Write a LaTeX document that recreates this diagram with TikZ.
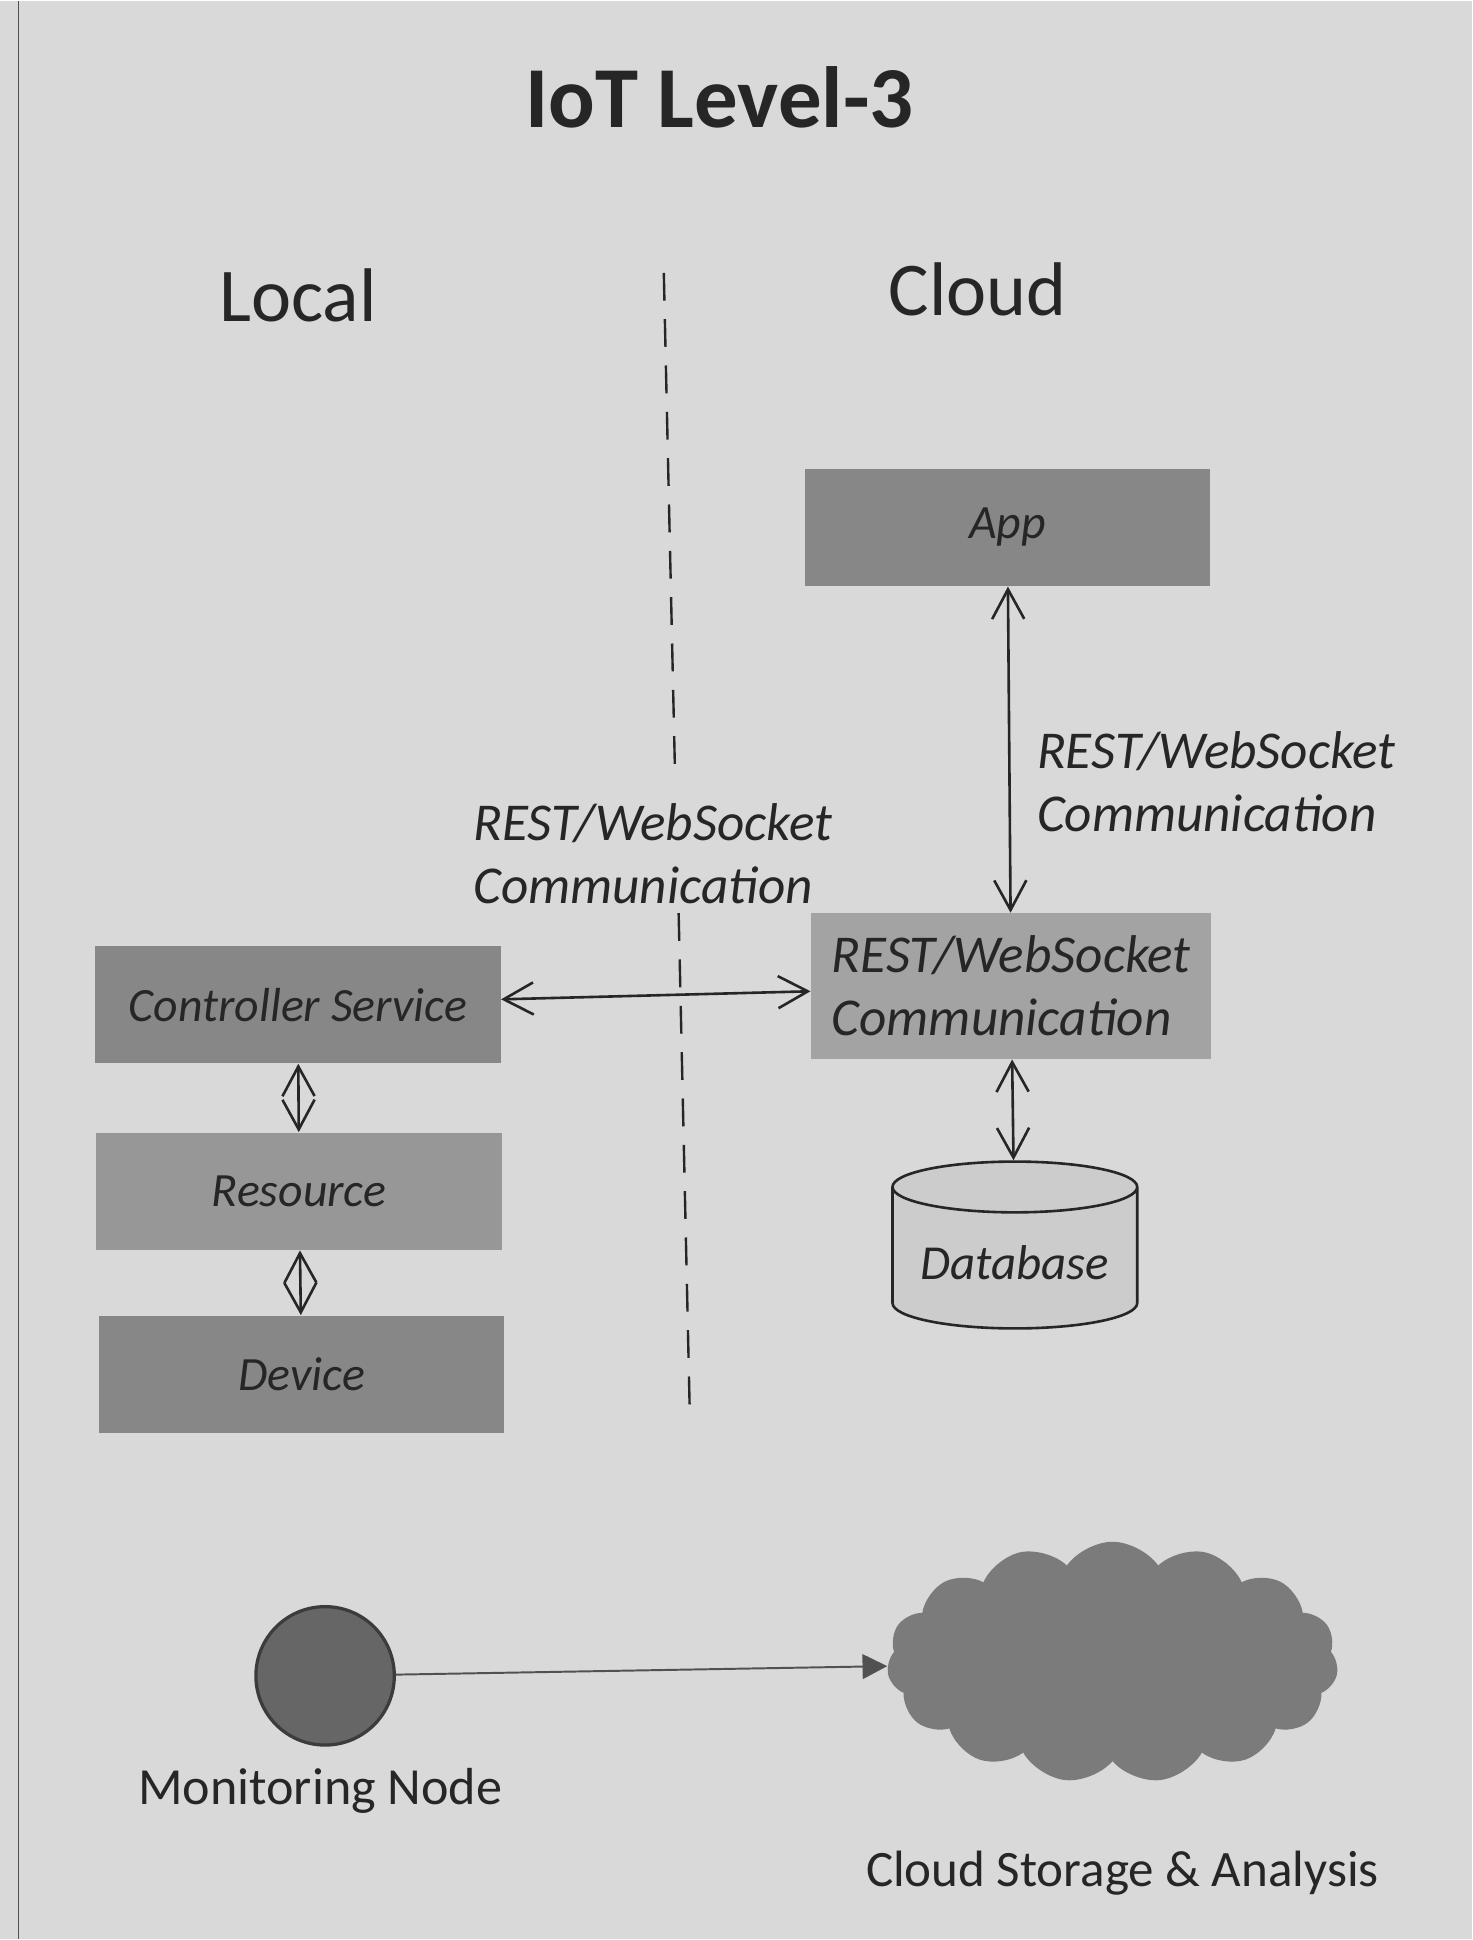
\documentclass[tikz,border=0pt]{standalone}
\usepackage{fontspec}
\setmainfont{Carlito}
\usetikzlibrary{arrows.meta,shapes.geometric,shapes.symbols}
\definecolor{paper}{HTML}{D9D9D9}
\definecolor{ink}{HTML}{262626}
\definecolor{boxdark}{HTML}{878787}
\definecolor{boxmid}{HTML}{979797}
\definecolor{boxlight}{HTML}{A3A3A3}

\begin{document}
\begin{tikzpicture}[x=0.02cm, y=-0.02cm,
    blk/.style={fill=boxdark, minimum width=6.56cm, minimum height=1.9cm, text=ink, font=\fontsize{22}{29}\selectfont\itshape},
    twoway/.style={{Straight Barb[length=4.8mm,width=5.2mm]}-{Straight Barb[length=4.8mm,width=5.2mm]}, line width=1.2pt, draw=ink},
    lbl/.style={text=ink, align=left, font=\fontsize{24.5}{29}\selectfont\itshape}]
        \fill[paper] (0,0) rectangle (1191,1568);
        \draw[ink!80, line width=0.8pt] (15,0) -- (15,1568);
        \node[text=ink, font=\fontsize{40}{48}\selectfont\bfseries] (title) at (582,78) {IoT Level-3};
        \node[text=ink, font=\fontsize{35}{40}\selectfont] (local) at (241,238) {Local};
        \node[text=ink, font=\fontsize{35}{40}\selectfont] (cloudhd) at (791,233) {Cloud};
        \draw[ink, line width=1.1pt, dash pattern=on 0.45cm off 0.3cm] (537,220) -- (546,622);
        \draw[ink, line width=1.1pt, dash pattern=on 0.45cm off 0.3cm] (549,738) -- (558,1142);

        \node[blk] (app) at (815,426) {App};
        \node[blk, fill=boxlight, minimum width=6.48cm, minimum height=2.36cm, align=left, font=\fontsize{24.5}{29}\selectfont\itshape] (rest) at (818,797) {REST/WebSocket\\Communication};
        \node[blk] (ctrl) at (241,812) {Controller Service};
        \node[blk, fill=boxmid] (res) at (242,963) {Resource};
        \node[blk] (dev) at (244,1111) {Device};
        \node[cylinder, shape border rotate=90, aspect=0.25, anchor=south, draw=ink, line width=1.2pt, fill=paper!85!gray, minimum width=3.96cm, minimum height=2.7cm, text=ink, font=\fontsize{22.5}{29}\selectfont\itshape] (db) at (821,1075) {Database};

        \draw[twoway] (app) -- (rest);
        \node[lbl] (lblcloud) at (984,632) {REST/WebSocket\\Communication};
        \draw[twoway] (ctrl) -- (rest);
        \node[lbl] (lbllocal) at (528,690) {REST/WebSocket\\Communication};
        \draw[twoway] (ctrl) -- (res);
        \draw[twoway] (res) -- (dev);
        \draw[twoway] (rest) -- (db);

        \node[circle, draw=ink!90, line width=1.5pt, fill=gray!80!black, minimum size=2.24cm] (mon) at (263,1355) {};
        \node[cloud, cloud puffs=15, cloud puff arc=110, aspect=1.9, fill=gray!85!black!90, minimum width=7.3cm, minimum height=3.9cm] (store) at (900,1344) {};
        \draw[-{Triangle[length=4mm,width=4mm]}, line width=0.9pt, draw=ink!80, fill=ink!80] (mon) -- (store);
        \node[text=ink, font=\fontsize{24}{28}\selectfont] (monlbl) at (259,1448) {Monitoring Node};
        \node[text=ink, font=\fontsize{23.5}{28}\selectfont] (storelbl) at (908,1515) {Cloud Storage \& Analysis};
\end{tikzpicture}
\end{document}
